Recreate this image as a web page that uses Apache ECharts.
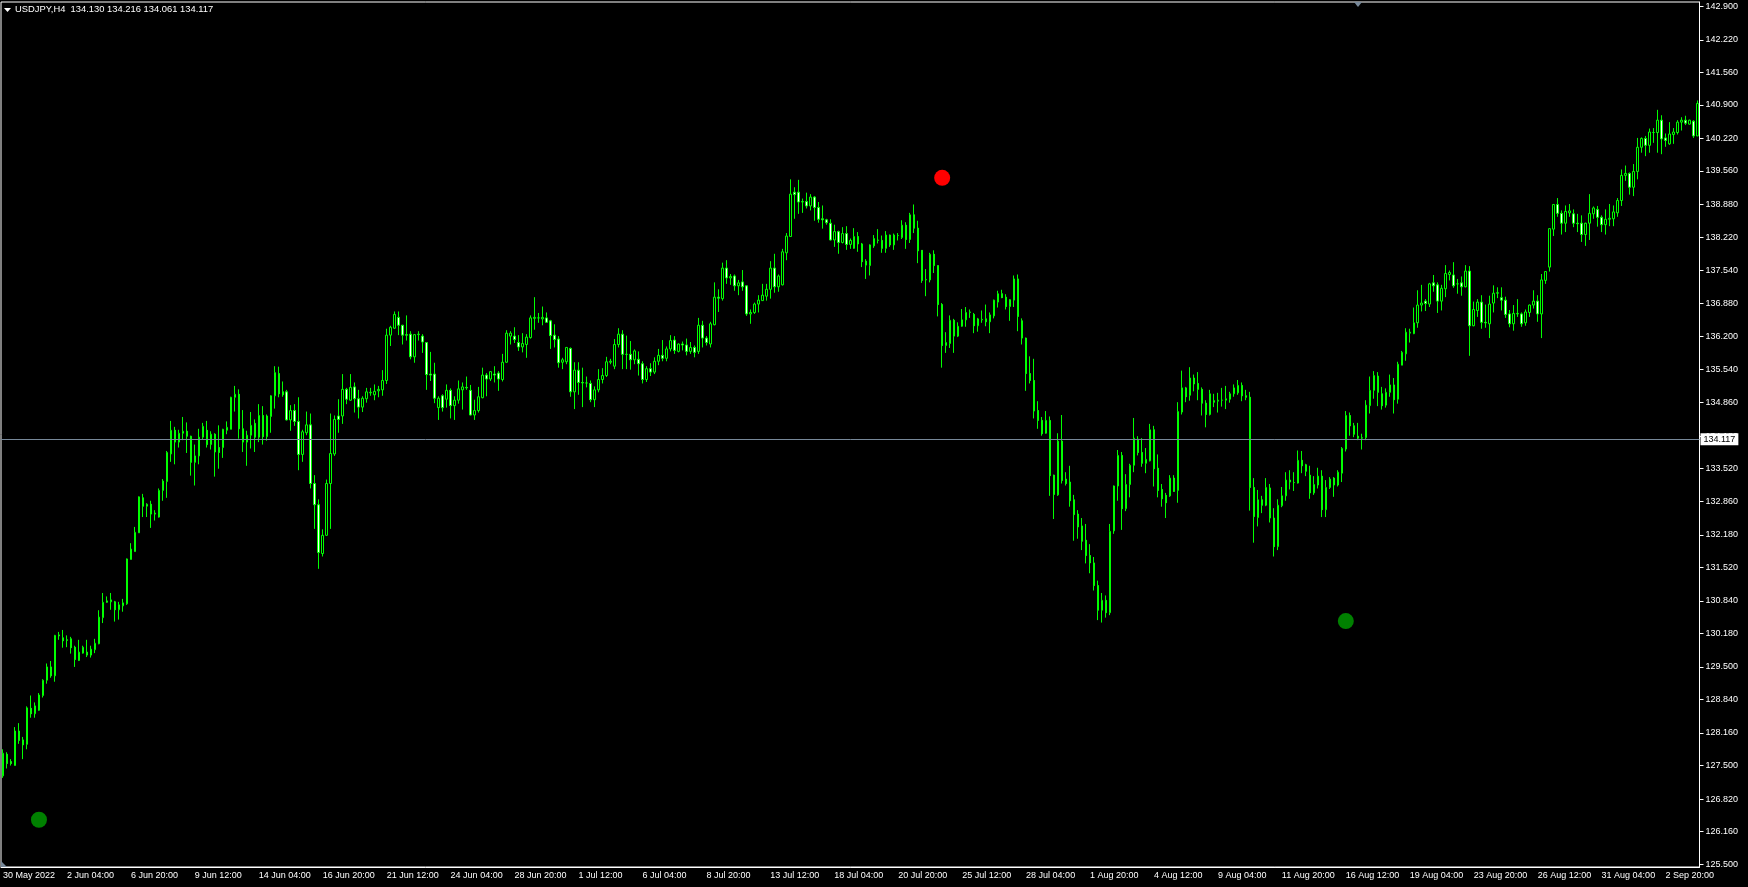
<!DOCTYPE html>
<html>
<head>
<meta charset="utf-8">
<title>USDJPY,H4</title>
<script src="https://cdn.jsdelivr.net/npm/echarts@6/dist/echarts.min.js"></script>
<style>
  html, body { margin: 0; padding: 0; background: #000; }
  #chart { width: 1748px; height: 887px; }
</style>
</head>
<body>
<div id="chart"></div>
<script>
// USDJPY H4, one value per bar, first bar 30 May 2022 12:00
const opens = [
  127.29,127.73,127.58,127.50,128.20,128.02,127.93,128.66,128.55,128.62,
  128.92,129.23,129.50,129.32,130.15,130.09,130.05,130.07,129.90,129.63,
  129.78,129.80,129.74,129.85,129.97,130.50,130.81,130.82,130.82,130.66,
  130.74,130.78,131.68,131.84,132.22,132.93,132.76,132.80,132.60,132.54,
  133.08,133.26,133.82,134.30,134.06,134.24,134.28,134.18,133.65,133.78,
  134.16,134.30,134.01,134.22,133.95,133.95,134.30,134.32,134.97,135.03,
  134.33,134.06,134.20,134.44,134.16,134.60,134.17,134.58,135.00,135.45,
  135.08,135.08,134.51,134.70,134.48,133.81,134.25,134.41,133.22,132.79,
  131.80,132.17,133.22,133.82,134.59,134.59,135.13,134.91,135.18,134.94,
  134.77,134.94,135.06,135.02,135.10,135.12,135.31,136.23,136.37,136.59,
  136.43,136.24,136.25,135.79,136.24,136.21,136.08,135.44,135.44,134.76,
  135.00,134.93,135.11,134.80,134.91,135.12,135.17,135.11,134.61,134.70,
  134.96,135.42,135.34,135.44,135.46,135.33,135.68,136.21,136.21,136.08,
  135.99,136.04,136.18,136.57,136.58,136.56,136.58,136.52,136.23,136.15,
  135.68,135.69,135.96,135.08,135.52,135.27,135.26,135.25,134.92,135.12,
  135.33,135.41,135.68,135.60,136.04,136.25,135.84,135.84,135.73,135.74,
  135.65,135.33,135.55,135.48,135.70,135.82,135.76,135.95,136.13,135.90,
  136.05,136.03,135.90,135.98,135.90,136.43,136.17,136.05,136.44,137.00,
  136.97,137.59,137.39,137.43,137.23,137.31,137.23,136.66,136.69,136.86,
  136.93,137.02,137.16,137.59,137.21,137.25,137.90,138.23,139.13,139.13,
  138.93,138.94,138.85,139.03,138.82,138.59,138.57,138.50,138.16,138.33,
  138.11,138.29,138.07,137.99,138.23,138.08,137.73,137.64,138.04,138.15,
  138.15,137.99,138.26,138.06,138.25,138.21,138.46,138.17,138.67,138.40,
  137.95,137.35,137.35,137.87,137.64,136.85,136.02,136.06,136.53,136.21,
  136.41,136.54,136.69,136.65,136.42,136.54,136.56,136.50,136.62,136.90,
  137.07,137.00,136.81,136.94,137.37,136.52,136.17,135.45,135.31,134.70,
  134.50,134.24,134.50,133.39,132.99,134.08,133.31,133.25,132.89,132.60,
  132.36,132.07,131.76,131.61,131.15,130.65,130.85,130.60,132.26,133.17,
  133.79,132.71,133.20,133.59,134.12,133.85,133.63,133.68,134.31,133.53,
  133.10,132.98,132.97,133.33,133.08,134.67,135.16,135.01,135.36,135.25,
  135.13,134.85,134.62,134.90,134.89,134.91,134.91,134.93,135.04,135.06,
  135.21,135.00,134.97,133.14,132.53,132.89,132.78,133.13,132.52,131.94,
  132.77,132.97,133.29,133.24,133.23,133.69,133.60,133.39,133.03,133.19,
  133.37,132.69,133.14,133.33,133.19,133.43,133.92,134.60,134.39,134.18,
  134.14,134.15,134.80,135.11,135.40,135.04,134.81,135.07,135.22,134.93,
  135.62,135.85,136.27,136.26,136.48,136.84,136.92,136.86,137.29,137.25,
  136.92,137.17,137.46,137.45,137.27,137.29,137.21,137.53,136.42,136.73,
  136.90,136.49,136.46,136.88,137.08,136.99,136.94,136.66,136.46,136.66,
  136.66,136.48,136.69,136.84,136.92,136.66,137.34,137.61,138.38,138.88,
  138.70,138.50,138.71,138.69,138.50,138.50,138.27,138.50,138.69,138.78,
  138.62,138.47,138.58,138.59,138.71,138.96,139.47,139.51,139.23,139.55,
  140.04,140.22,140.08,140.34,140.34,140.59,140.23,140.11,140.30,140.34,
  140.55,140.59,140.51,140.57,140.27
];
const closes = [
  127.75,127.54,127.54,128.20,128.01,127.92,128.67,128.55,128.71,128.93,
  129.23,129.50,129.32,130.14,130.13,130.03,130.04,129.89,129.65,129.80,
  129.90,129.74,129.86,129.98,130.51,130.81,130.84,130.86,130.66,130.76,
  130.80,131.69,131.89,132.23,132.95,132.76,132.80,132.60,132.62,133.08,
  133.27,133.85,134.30,134.06,134.24,134.28,134.18,133.65,133.78,134.16,
  134.38,134.01,134.22,133.86,133.85,134.32,134.36,134.97,135.03,134.33,
  134.06,134.20,134.40,134.16,134.60,134.17,134.59,135.00,135.47,135.04,
  135.02,134.51,134.70,134.48,133.81,134.27,134.41,133.22,132.79,131.82,
  132.17,133.22,133.83,134.52,134.52,135.13,134.93,135.17,134.94,134.77,
  134.95,135.08,135.07,135.09,135.13,135.31,136.23,136.39,136.65,136.43,
  136.23,136.23,135.79,136.24,136.25,136.09,135.43,135.42,134.95,134.95,
  134.76,135.11,134.80,134.91,135.14,135.18,135.16,134.61,134.70,134.98,
  135.42,135.34,135.49,135.42,135.34,135.68,136.27,136.27,136.14,135.99,
  136.06,136.19,136.58,136.59,136.58,136.59,136.49,136.22,136.14,135.67,
  135.73,135.98,135.08,135.52,135.27,135.26,135.26,134.92,135.12,135.33,
  135.41,135.69,135.70,136.04,136.25,135.84,135.84,135.73,135.91,135.65,
  135.33,135.55,135.48,135.70,135.82,135.76,135.95,136.12,135.92,136.05,
  136.03,135.90,135.98,135.88,136.43,136.17,136.08,136.46,137.00,136.98,
  137.59,137.39,137.42,137.23,137.29,137.21,136.66,136.69,136.86,136.94,
  137.04,137.16,137.59,137.21,137.43,137.92,138.24,139.09,139.08,138.93,
  138.94,138.85,139.03,138.82,138.58,138.57,138.51,138.16,138.33,138.11,
  138.29,138.07,138.15,138.23,138.08,137.72,137.65,138.06,138.19,138.16,
  137.99,138.26,138.06,138.26,138.25,138.46,138.17,138.67,138.40,137.94,
  137.34,137.36,137.87,137.64,136.85,136.02,136.08,136.53,136.21,136.41,
  136.54,136.69,136.70,136.42,136.56,136.55,136.50,136.64,136.94,137.07,
  136.99,136.81,136.95,137.37,136.61,136.17,135.45,135.31,134.69,134.50,
  134.23,134.50,133.38,133.00,134.08,133.28,133.22,132.87,132.59,132.34,
  132.05,131.76,131.61,131.15,130.65,130.85,130.60,132.25,133.17,133.79,
  132.71,133.20,133.59,134.14,133.85,133.63,133.71,134.31,133.52,133.08,
  132.91,132.83,133.33,133.06,134.68,135.16,134.98,135.36,135.24,135.13,
  134.85,134.62,135.04,134.87,134.91,134.91,134.94,135.04,135.16,135.21,
  135.00,134.97,133.14,132.55,132.89,132.78,133.14,132.52,131.94,132.78,
  132.97,133.29,133.25,133.24,133.69,133.58,133.47,133.03,133.20,133.37,
  132.69,133.14,133.31,133.19,133.45,133.93,134.60,134.39,134.22,134.14,
  134.15,134.81,135.11,135.41,135.07,134.80,135.07,135.22,134.92,135.64,
  135.88,136.29,136.29,136.48,136.84,136.88,136.87,137.27,137.23,136.92,
  137.18,137.48,137.50,137.23,137.27,137.21,137.53,136.42,136.75,136.90,
  136.49,136.48,136.86,137.08,137.09,136.94,136.65,136.46,136.67,136.67,
  136.46,136.70,136.84,136.92,136.66,137.35,137.52,138.39,138.88,138.70,
  138.50,138.74,138.75,138.50,138.49,138.27,138.50,138.70,138.81,138.62,
  138.47,138.58,138.60,138.73,138.96,139.47,139.51,139.23,139.55,140.04,
  140.22,140.08,140.35,140.34,140.59,140.21,140.18,140.31,140.35,140.55,
  140.59,140.53,140.59,140.27,140.93
];
const lows = [
  127.25,127.44,127.50,127.50,127.94,127.63,127.83,128.47,128.47,128.61,
  128.88,129.16,129.28,129.20,130.05,129.89,129.90,129.77,129.50,129.62,
  129.77,129.70,129.69,129.78,129.96,130.39,130.80,130.66,130.42,130.46,
  130.62,130.76,131.68,131.84,132.22,132.54,132.54,132.32,132.47,132.53,
  132.87,132.93,133.66,133.61,133.95,134.10,133.84,133.38,133.18,133.61,
  134.11,133.95,133.91,133.36,133.52,133.74,134.22,134.32,134.68,134.13,
  133.86,133.58,133.93,133.86,134.06,134.01,134.09,134.25,134.74,134.97,
  134.98,134.50,134.29,134.39,133.49,133.66,134.20,133.12,132.30,131.49,
  131.74,132.16,132.30,133.78,134.25,134.43,134.83,134.90,134.66,134.54,
  134.67,134.86,135.00,134.91,134.97,135.00,135.24,136.01,136.36,136.23,
  136.04,136.12,135.74,135.67,136.12,135.87,135.12,135.30,134.85,134.51,
  134.68,134.76,134.54,134.51,134.84,134.72,135.12,134.60,134.51,134.66,
  134.95,134.99,135.30,135.27,135.10,135.29,135.67,136.04,136.07,135.91,
  135.88,135.77,136.16,136.34,136.48,136.43,136.48,135.95,135.98,135.57,
  135.54,135.64,134.98,134.73,135.02,134.77,135.17,134.87,134.77,135.07,
  135.25,135.38,135.64,135.54,135.98,135.54,135.54,135.53,135.64,135.41,
  135.25,135.28,135.40,135.44,135.62,135.70,135.70,135.90,135.85,135.88,
  135.92,135.82,135.85,135.78,135.85,135.98,136.02,135.98,136.43,136.70,
  136.93,137.27,137.25,137.13,137.04,137.13,136.62,136.46,136.66,136.69,
  136.93,136.93,136.97,137.09,137.11,137.24,137.75,138.23,138.59,138.69,
  138.71,138.80,138.76,138.55,138.51,138.39,138.47,138.15,138.02,137.88,
  138.09,137.96,137.98,137.98,137.92,137.61,137.37,137.44,138.00,138.09,
  137.90,137.90,138.02,137.96,138.15,138.18,137.98,138.10,138.30,137.69,
  137.29,137.02,137.30,137.49,136.61,135.57,135.87,135.97,135.87,136.19,
  136.40,136.40,136.58,136.27,136.30,136.48,136.41,136.27,136.57,136.79,
  136.98,136.75,136.52,136.80,136.31,136.04,135.10,135.25,134.54,134.33,
  134.19,134.23,132.97,132.50,132.97,133.22,133.18,132.75,132.06,132.10,
  131.87,131.60,131.40,131.05,130.45,130.40,130.50,130.55,132.20,132.87,
  132.28,132.66,132.94,133.45,133.79,133.56,133.43,133.67,133.16,132.94,
  132.75,132.52,132.95,133.05,132.83,134.62,134.87,134.90,135.09,134.91,
  134.60,134.36,134.60,134.77,134.66,134.78,134.73,134.86,134.98,135.02,
  134.89,134.91,132.67,132.02,132.35,132.62,132.76,132.43,131.74,131.87,
  132.74,132.87,133.10,133.07,133.22,133.43,133.37,132.91,132.99,133.12,
  132.54,132.54,133.11,132.95,133.16,133.25,133.87,134.19,134.16,134.10,
  133.91,134.10,134.64,134.94,134.79,134.72,134.76,134.98,134.64,134.84,
  135.62,135.71,136.08,136.25,136.38,136.71,136.72,136.80,137.11,136.68,
  136.73,137.00,137.34,137.19,137.07,137.03,137.20,135.81,136.41,136.60,
  136.36,136.38,136.17,136.69,136.98,136.73,136.58,136.39,136.32,136.60,
  136.40,136.42,136.60,136.77,136.50,136.17,137.27,137.52,138.24,138.63,
  138.27,138.32,138.63,138.42,138.32,138.12,138.04,138.16,138.59,138.43,
  138.32,138.27,138.44,138.44,138.63,138.85,139.36,139.08,139.05,139.39,
  139.93,139.86,139.93,140.13,139.93,139.90,140.05,140.09,140.11,140.30,
  140.38,140.49,140.50,140.23,140.27
];
const highs = [
  127.83,127.77,127.63,128.28,128.36,128.08,128.70,128.92,128.78,128.97,
  129.25,129.57,129.62,130.15,130.21,130.25,130.14,130.11,129.93,130.05,
  129.93,130.05,129.93,130.07,130.65,131.00,130.93,131.00,130.84,130.82,
  130.88,131.70,132.01,132.34,132.96,133.01,132.82,132.87,132.68,133.12,
  133.31,133.88,134.49,134.37,134.31,134.57,134.46,134.19,134.01,134.33,
  134.45,134.49,134.28,134.24,134.40,134.33,134.48,134.98,135.20,135.13,
  134.71,134.29,134.67,134.52,134.83,134.79,134.62,135.01,135.60,135.59,
  135.29,135.12,134.81,134.83,134.97,134.31,134.68,134.64,133.39,132.90,
  132.29,133.30,134.64,134.60,134.93,135.44,135.16,135.44,135.27,135.12,
  134.99,135.16,135.16,135.23,135.20,135.52,136.36,136.42,136.71,136.71,
  136.44,136.63,136.31,136.25,136.31,136.25,136.09,135.89,135.67,134.99,
  135.03,135.23,135.15,134.99,135.31,135.27,135.39,135.22,134.92,135.18,
  135.57,135.46,135.50,135.60,135.50,135.85,136.33,136.31,136.39,136.23,
  136.27,136.25,136.63,137.00,136.68,136.81,136.69,136.54,136.45,136.21,
  135.77,135.99,135.98,135.68,135.68,135.57,135.39,135.31,135.19,135.54,
  135.56,135.79,135.75,136.15,136.37,136.33,136.22,136.11,135.94,135.90,
  135.70,135.60,135.66,135.78,135.95,136.13,136.00,136.23,136.21,136.06,
  136.10,136.16,136.09,136.02,136.58,136.52,136.21,136.50,137.30,137.16,
  137.70,137.75,137.47,137.46,137.35,137.55,137.24,136.75,136.89,137.04,
  137.27,137.27,137.73,137.88,137.46,137.98,138.30,139.39,139.23,139.38,
  139.00,139.12,139.09,139.05,138.93,138.86,138.59,138.58,138.47,138.35,
  138.42,138.44,138.19,138.40,138.32,138.10,137.77,138.07,138.26,138.38,
  138.25,138.34,138.27,138.29,138.30,138.56,138.52,138.71,138.88,138.55,
  137.95,137.57,137.90,137.95,137.64,136.88,136.29,136.63,136.56,136.49,
  136.76,136.80,136.75,136.68,136.58,136.73,136.85,136.69,136.95,137.13,
  137.15,137.06,136.96,137.44,137.46,136.57,136.18,135.80,135.75,134.89,
  134.57,134.69,134.58,133.40,134.24,134.61,133.45,133.58,132.99,132.68,
  132.52,132.40,131.99,131.73,131.25,131.00,130.95,132.40,133.18,133.90,
  133.86,133.41,133.62,134.55,134.18,134.14,133.94,134.43,134.39,133.81,
  133.21,133.03,133.39,133.39,134.87,135.51,135.18,135.58,135.43,135.48,
  135.17,134.91,135.12,135.04,135.06,135.16,135.20,135.08,135.23,135.32,
  135.27,135.12,135.08,133.33,133.09,132.97,133.33,133.21,132.72,132.90,
  133.15,133.45,133.49,133.45,133.89,133.88,133.62,133.58,133.37,133.54,
  133.49,133.29,133.35,133.35,133.49,133.96,134.69,134.66,134.45,134.45,
  134.23,134.91,135.39,135.50,135.48,135.18,135.15,135.43,135.36,135.69,
  135.91,136.37,136.36,136.79,137.14,137.25,136.96,137.29,137.45,137.30,
  137.25,137.65,137.54,137.71,137.37,137.42,137.65,137.63,136.91,136.96,
  137.04,136.85,137.03,137.24,137.20,137.20,137.01,136.74,136.84,136.96,
  136.69,136.75,136.85,137.14,137.04,137.47,137.53,138.40,138.89,139.01,
  138.76,138.86,138.89,138.78,138.69,138.66,138.51,139.09,138.84,138.85,
  138.66,138.78,138.89,138.86,139.01,139.59,139.67,139.53,139.70,140.23,
  140.24,140.27,140.42,140.43,140.80,140.69,140.32,140.55,140.43,140.59,
  140.65,140.68,140.60,140.59,140.99
];

// time scale labels, one every 16 bars
const labelStep = 16;
const timeLabels = [
  '30 May 2022', '2 Jun 04:00', '6 Jun 20:00', '9 Jun 12:00', '14 Jun 04:00',
  '16 Jun 20:00', '21 Jun 12:00', '24 Jun 04:00', '28 Jun 20:00', '1 Jul 12:00',
  '6 Jul 04:00', '8 Jul 20:00', '13 Jul 12:00', '18 Jul 04:00', '20 Jul 20:00',
  '25 Jul 12:00', '28 Jul 04:00', '1 Aug 20:00', '4 Aug 12:00', '9 Aug 04:00',
  '11 Aug 20:00', '16 Aug 12:00', '19 Aug 04:00', '23 Aug 20:00', '26 Aug 12:00',
  '31 Aug 04:00', '2 Sep 20:00'
];

// price scale labels
const priceTicks = [
  142.90, 142.22, 141.56, 140.90, 140.22, 139.56, 138.88, 138.22, 137.54,
  136.88, 136.20, 135.54, 134.86, 134.18, 133.52, 132.86, 132.18, 131.52,
  130.84, 130.18, 129.50, 128.84, 128.16, 127.50, 126.82, 126.16, 125.50
];
const priceMin = 125.442;
const priceMax = 142.987;

const lastPrice = 134.117;
const headerText = 'USDJPY,H4  134.130 134.216 134.061 134.117';

// indicator dots: [bar, price]
const buyDots = [[9, 126.40], [336, 130.43]];
const sellDots = [[235, 139.42]];

if (opens.length !== closes.length || opens.length !== lows.length || opens.length !== highs.length) {
  throw new Error('bar arrays differ: ' + [opens.length, closes.length, lows.length, highs.length].join(','));
}

const bars = opens.map((_, i) => String(i));
const candles = opens.map((o, i) => [o, closes[i], lows[i], highs[i]]);
const onLabel = (index) => index % labelStep === 0;

const font = 'Liberation Sans';
const fg = '#ffffff';
const bull = '#00ff00';

const chart = echarts.init(document.getElementById('chart'));
chart.setOption({
  backgroundColor: '#000000',
  animation: false,
  textStyle: { fontFamily: font },
  title: {
    text: headerText,
    left: 15,
    top: 5,
    padding: 0,
    textStyle: { color: fg, fontSize: 9.4, fontWeight: 'normal', fontFamily: font }
  },
  grid: {
    left: -0.5,
    right: 48.5,
    top: 2,
    bottom: 20,
    show: true,
    borderColor: fg,
    borderWidth: 1
  },
  xAxis: {
    type: 'category',
    data: bars,
    boundaryGap: true,
    axisLine: { lineStyle: { color: fg, width: 1 } },
    axisTick: {
      alignWithLabel: true,
      interval: onLabel,
      length: 4,
      lineStyle: { color: fg }
    },
    axisLabel: {
      interval: onLabel,
      formatter: (value, index) => timeLabels[index / labelStep] || '',
      align: 'left',
      color: fg,
      fontSize: 9,
      fontFamily: font,
      margin: 4
    },
    splitLine: { show: false }
  },
  yAxis: {
    type: 'value',
    position: 'right',
    min: priceMin,
    max: priceMax,
    splitLine: { show: false },
    axisLine: { show: true, lineStyle: { color: fg, width: 1 } },
    axisTick: { show: true, length: 4, customValues: priceTicks, lineStyle: { color: fg } },
    axisLabel: {
      customValues: priceTicks,
      formatter: (v) => v.toFixed(3),
      color: fg,
      fontSize: 9,
      fontFamily: font,
      margin: 6
    }
  },
  series: [
    {
      type: 'candlestick',
      data: candles,
      barWidth: 2,
      silent: true,
      itemStyle: {
        color: '#000000',
        color0: '#ffffff',
        borderColor: bull,
        borderColor0: bull,
        borderColorDoji: bull,
        borderWidth: 1
      },
      markLine: {
        silent: true,
        symbol: ['none', 'none'],
        lineStyle: { color: '#778899', width: 1, type: 'solid' },
        label: {
          show: true,
          position: 'end',
          formatter: lastPrice.toFixed(3),
          color: '#000000',
          backgroundColor: '#ffffff',
          padding: [2, 3, 1, 3],
          fontSize: 9,
          fontFamily: font,
          distance: 1
        },
        emphasis: { disabled: true },
        data: [{ yAxis: lastPrice }]
      }
    },
    {
      type: 'scatter',
      data: buyDots,
      symbol: 'circle',
      symbolSize: 16,
      silent: true,
      itemStyle: { color: '#008000', opacity: 1 }
    },
    {
      type: 'scatter',
      data: sellDots,
      symbol: 'circle',
      symbolSize: 16,
      silent: true,
      itemStyle: { color: '#ff0000', opacity: 1 }
    }
  ],
  graphic: [
    // symbol menu arrow before the header
    { type: 'polygon', shape: { points: [[4, 8], [11, 8], [7.5, 12]] }, style: { fill: fg } },
    // chart shift marker
    { type: 'polygon', shape: { points: [[1354, 2], [1362, 2], [1358, 7]] }, style: { fill: '#778899' } },
    // scale fix marker
    { type: 'polygon', shape: { points: [[1, 861], [1, 867], [7, 867]] }, style: { fill: '#778899' } }
  ]
});
</script>
</body>
</html>
